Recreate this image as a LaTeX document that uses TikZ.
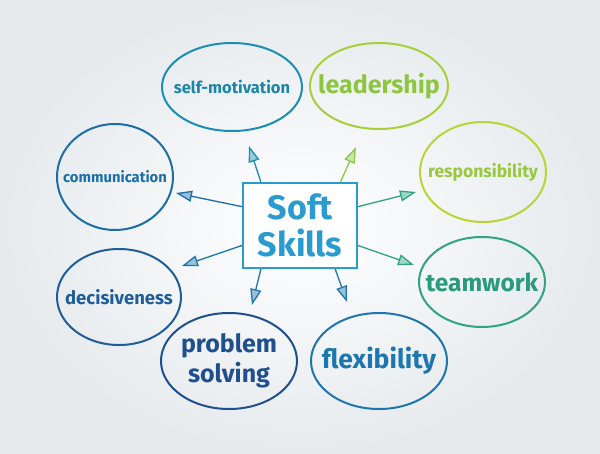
\documentclass[tikz,border=0pt]{standalone}
\usepackage{fontspec}
\setmainfont{Fira Sans}
\usetikzlibrary{arrows.meta,shapes.geometric,calc}
\definecolor{cSM}{HTML}{1C8DB3}
\definecolor{cSMt}{HTML}{1A86A8}
\definecolor{cLD}{HTML}{A6CF3A}
\definecolor{cLDt}{HTML}{8CC63F}
\definecolor{cCM}{HTML}{1B6FA6}
\definecolor{cRS}{HTML}{B8D535}
\definecolor{cRSt}{HTML}{98C83C}
\definecolor{cDC}{HTML}{1F5E9A}
\definecolor{cTW}{HTML}{2FA382}
\definecolor{cTWt}{HTML}{2A9A7C}
\definecolor{cPS}{HTML}{1F4F8F}
\definecolor{cFX}{HTML}{1D76AE}
\definecolor{cBX}{HTML}{2A9BCF}
\definecolor{bgout}{HTML}{E6EAED}
\tikzset{
  ell/.style={ellipse, draw, line width=2pt, inner sep=0pt},
  lbl/.style={inner sep=0pt, align=center, font=\bfseries\fontsize{#1}{#1}\selectfont},
  arr/.style={line width=1.3pt, -{Triangle[width=11pt,length=16pt,fill=#1!45]}, draw=#1},
  box/.style={draw=cBX, line width=1.8pt, fill=white, minimum width=114pt, minimum height=85pt, align=center, text=cBX, font=\bfseries\fontsize{34}{37}\selectfont}
}
\begin{document}
\begin{tikzpicture}[x=1pt,y=-1pt]
\shade[inner color=white, outer color=bgout] (0,0) rectangle (600,453);
\useasboundingbox (0,0) rectangle (600,453);
\node[ell, draw=cSM, minimum width=140pt, minimum height=88pt] (sm) at (232,87) {};
\node[lbl=16.5, text=cSMt] (smt) at (sm) {self-motivation};
\node[ell, draw=cLD, minimum width=138pt, minimum height=86pt] (ld) at (379,86) {};
\node[lbl=25, text=cLDt] (ldt) at (ld) {leadership};
\node[ell, draw=cCM, minimum width=116pt, minimum height=106pt] (cm) at (115,177) {};
\node[lbl=14.8, text=cCM] (cmt) at (cm) {communication};
\node[ell, draw=cRS, minimum width=126pt, minimum height=100pt] (rs) at (483,172) {};
\node[lbl=17.5, text=cRSt] (rst) at (rs) {responsibility};
\node[ell, draw=cDC, minimum width=124pt, minimum height=96pt] (dc) at (119,297) {};
\node[lbl=18.5, text=cDC] (dct) at (dc) {decisiveness};
\node[ell, draw=cTW, minimum width=126pt, minimum height=90pt] (tw) at (482,282) {};
\node[lbl=24.5, text=cTWt] (twt) at (tw) {teamwork};
\node[ell, draw=cPS, minimum width=136pt, minimum height=96pt] (ps) at (229,361) {};
\node[lbl=25, text=cPS] (pst) at (ps) {problem\\[3pt]solving};
\node[ell, draw=cFX, minimum width=136pt, minimum height=96pt] (fx) at (379,361) {};
\node[lbl=26.5, text=cFX] (fxt) at (fx) {flexibility};
\node[box] (c) at (300,225.5) {Soft\\Skills};
\coordinate (t1) at (249,146);
\coordinate (t2) at (356,147);
\coordinate (t3) at (176,193);
\coordinate (t4) at (416,192);
\coordinate (t5) at (182,266);
\coordinate (t6) at (414,265);
\coordinate (t7) at (252,305);
\coordinate (t8) at (347,302);
\draw[arr=cSM] (c.132) -- (t1);
\draw[arr=cLD!80!cTW] (c.47) -- (t2);
\draw[arr=cCM] (c.162) -- (t3);
\draw[arr=cTW] (c.18) -- (t4);
\draw[arr=cFX] (c.199) -- (t5);
\draw[arr=cTW] (c.341) -- (t6);
\draw[arr=cFX] (c.228) -- (t7);
\draw[arr=cFX] (c.309.5) -- (t8);
\end{tikzpicture}
\end{document}
